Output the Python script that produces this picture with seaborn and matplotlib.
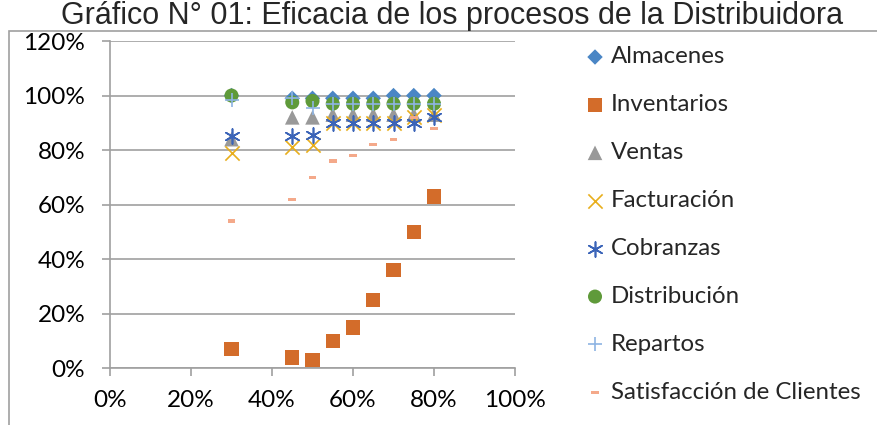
import pandas as pd
import seaborn as sns
import matplotlib.pyplot as plt
from matplotlib.patches import Rectangle
from matplotlib.ticker import PercentFormatter, MultipleLocator

# eficacia (%) por nivel de avance (%)
x_pct = [30, 45, 50, 55, 60, 65, 70, 75, 80]
almacenes = [100, 99, 99, 99, 99, 99, 100, 100, 100]
inventarios = [7, 4, 3, 10, 15, 25, 36, 50, 63]
ventas = [84, 92, 92, 93, 93, 93, 93, 93, 93]
facturacion = [79, 81, 82, 90, 90, 90, 90, 92, 93]
cobranzas = [85, 85, 85.5, 90, 90, 90, 90, 90, 92]
distribucion = [100, 97.5, 98, 97, 97, 97, 97, 97, 97]
repartos = [98.5, 99, 95.5, 97, 97, 97, 97, 97, 97]
satisfaccion = [54, 62, 70, 76, 78, 82, 84, 92, 88]

names = ['Almacenes', 'Inventarios', 'Ventas', 'Facturación', 'Cobranzas',
         'Distribución', 'Repartos', 'Satisfacción de Clientes']
values = [almacenes, inventarios, ventas, facturacion, cobranzas,
          distribucion, repartos, satisfaccion]
title = 'Gráfico N° 01: Eficacia de los procesos de la Distribuidora'

colors = ['#4a86c5', '#d36c2a', '#999999', '#e8ae1c', '#3b64b8',
          '#5f9a3a', '#8eb4e3', '#f4a98a']
dash = [(-1, -0.4), (1, -0.4), (1, 0.4), (-1, 0.4), (-1, -0.4)]
markers = ['D', 's', '^', 'x', (6, 2, 0), 'o', '+', dash]
sizes = [62, 105, 110, 105, 115, 102, 95, 32]

sns.set_theme(style='white')
plt.rcParams['font.family'] = ['Lato', 'DejaVu Sans']

fig = plt.figure(figsize=(8.77, 4.25), dpi=100)
ax = fig.add_axes([110 / 877, 1 - 368.3 / 425, 405 / 877, 327.3 / 425])

for i, (name, vals) in enumerate(zip(names, values)):
    df = pd.DataFrame({'x': x_pct, 'y': vals})
    unfilled = markers[i] in ('x', '+', (6, 2, 0))
    kw = dict(linewidth=1.2) if unfilled else dict(linewidth=0, edgecolor='none')
    sns.scatterplot(data=df, x='x', y='y', ax=ax, marker=markers[i], s=sizes[i],
                    color=colors[i], label=name, zorder=3 + i, **kw)

ax.set_xlim(0, 100)
ax.set_ylim(0, 120)
ax.xaxis.set_major_locator(MultipleLocator(20))
ax.yaxis.set_major_locator(MultipleLocator(20))
ax.xaxis.set_major_formatter(PercentFormatter(100, decimals=0))
ax.yaxis.set_major_formatter(PercentFormatter(100, decimals=0))
ax.set_xlabel('')
ax.set_ylabel('')
ax.grid(axis='y', color='#a0a0a0', linewidth=1.2)
ax.set_axisbelow(True)
sns.despine(ax=ax)
for side in ('left', 'bottom'):
    ax.spines[side].set_color('#a0a0a0')
    ax.spines[side].set_linewidth(1.2)
ax.tick_params(axis='both', direction='out', length=5.8, width=1.2, color='#a0a0a0',
               labelsize=17.5, labelcolor='black', left=True, bottom=True)
ax.tick_params(axis='x', pad=10)
ax.tick_params(axis='y', pad=12)

ax.legend(loc='upper left', bbox_to_anchor=(0.6675, 0.891), bbox_transform=fig.transFigure,
          frameon=False, fontsize=17.3, handlelength=0.8, handletextpad=0.27,
          labelspacing=1.12, borderpad=0, borderaxespad=0)

# titulo y marco del grafico
fig.text(0.515, 1 - 1 / 425, title, ha='center', va='top', fontsize=22,
         family=['Liberation Sans', 'DejaVu Sans'])
fig.add_artist(Rectangle((9 / 877, -0.1), 1.2, 1.1 - 31 / 425, transform=fig.transFigure,
                         fill=False, edgecolor='#a0a0a0', linewidth=1.2))

fig.savefig('out.png', dpi=100)
